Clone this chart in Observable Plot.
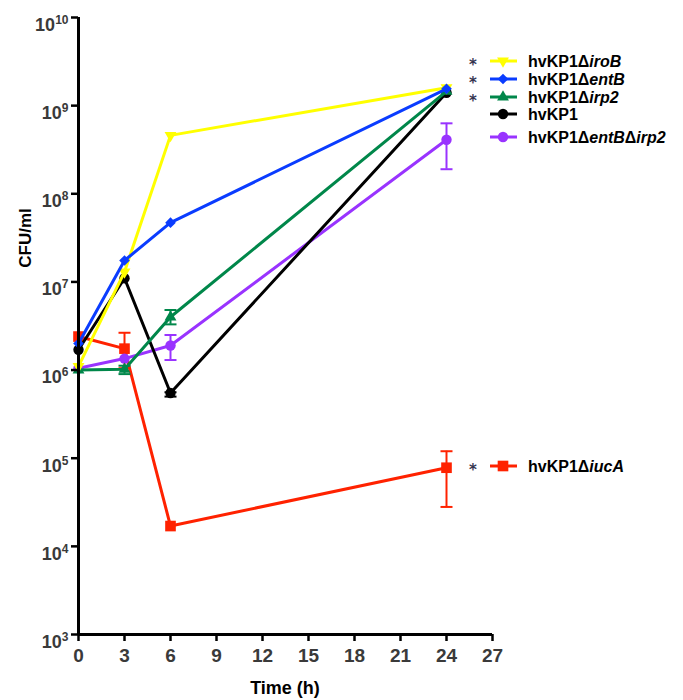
<!DOCTYPE html>
<html><head><meta charset="utf-8">
<script src="https://cdn.jsdelivr.net/npm/d3@7"></script>
<script src="https://cdn.jsdelivr.net/npm/@observablehq/plot@0.6"></script>
<style>
body{margin:0;background:#fff;}
#wrap{position:relative;width:683px;height:700px;font-family:"Liberation Sans",Arial,sans-serif;}
#wrap svg{position:absolute;left:0;top:0;}
</style></head><body><div id="wrap"></div>
<script>
// ---- data ----
const times = [0, 3, 6, 24];
const seriesKeys = ["iucA", "entBirp2", "hvKP1", "irp2", "iroB", "entB"];
const seriesColors = ["#FF2200", "#9933FF", "#000000", "#00874A", "#FFFF00", "#0A3CFF"];

const iucA      = [2.4e6, 1.75e6, 1.7e4, 7.8e4];
const iucA_lo   = [null, 1.05e6, null, 2.8e4];
const iucA_hi   = [null, 2.65e6, null, 1.2e5];

const entBirp2    = [1.05e6, 1.35e6, 1.9e6, 4.1e8];
const entBirp2_lo = [null, null, 1.3e6, 1.9e8];
const entBirp2_hi = [null, null, 2.5e6, 6.3e8];

const hvKP1    = [1.7e6, 1.1e7, 5.5e5, 1.4e9];
const hvKP1_lo = [null, null, 5.0e5, null];
const hvKP1_hi = [null, null, 5.6e5, null];

const irp2    = [1.0e6, 1.02e6, 4.0e6, 1.45e9];
const irp2_lo = [null, 0.9e6, 3.3e6, null];
const irp2_hi = [null, 1.12e6, 4.8e6, null];

const iroB    = [1.1e6, 1.3e7, 4.6e8, 1.6e9];
const iroB_lo = [null, null, null, null];
const iroB_hi = [null, null, null, null];

const entB    = [2.0e6, 1.75e7, 4.7e7, 1.55e9];
const entB_lo = [null, null, null, null];
const entB_hi = [null, null, null, null];

const xTicks = [0, 3, 6, 9, 12, 15, 18, 21, 24, 27];
const yTicks = [1e3, 1e4, 1e5, 1e6, 1e7, 1e8, 1e9, 1e10];

// legend text parts: [normal, italic, normal, italic ...]
const legendLabels = {
  iroB: ["hvKP1Δ", "iroB"],
  entB: ["hvKP1Δ", "entB"],
  irp2: ["hvKP1Δ", "irp2"],
  hvKP1: ["hvKP1"],
  entBirp2: ["hvKP1Δ", "entB", "Δ", "irp2"],
  iucA: ["hvKP1Δ", "iucA"]
};
const legendStars = {iroB: true, entB: true, irp2: true, hvKP1: false, entBirp2: false, iucA: true};
const starText = "*";
const xLabel = "Time (h)";
const yLabel = "CFU/ml";

// ---- symbols ----
const triangleDown = {draw(ctx, size) {
  const y = -Math.sqrt(size / (Math.sqrt(3) * 3));
  ctx.moveTo(0, -y * 2); ctx.lineTo(-Math.sqrt(3) * y, y); ctx.lineTo(Math.sqrt(3) * y, y); ctx.closePath();
}};
const capSymbol = {draw(ctx, size) { ctx.moveTo(-6, 0); ctx.lineTo(6, 0); }};
const seriesSymbols = {iucA: d3.symbolSquare, entBirp2: d3.symbolCircle, hvKP1: d3.symbolCircle,
  irp2: d3.symbolTriangle, iroB: triangleDown, entB: d3.symbolDiamond2};
const seriesR = {iucA: 6, entBirp2: 5.2, hvKP1: 5.2, irp2: 4.4, iroB: 4.4, entB: 4.8};

const vals = {iucA, entBirp2, hvKP1, irp2, iroB, entB};
const los = {iucA: iucA_lo, entBirp2: entBirp2_lo, hvKP1: hvKP1_lo, irp2: irp2_lo, iroB: iroB_lo, entB: entB_lo};
const his = {iucA: iucA_hi, entBirp2: entBirp2_hi, hvKP1: hvKP1_hi, irp2: irp2_hi, iroB: iroB_hi, entB: entB_hi};
const colorOf = Object.fromEntries(seriesKeys.map((k, i) => [k, seriesColors[i]]));

const marks = [];
for (const k of seriesKeys) {
  const rows = times.map((t, i) => ({t, v: vals[k][i], lo: los[k][i], hi: his[k][i]}));
  const err = rows.filter(r => r.lo != null);
  marks.push(Plot.ruleX(err, {x: "t", y1: "lo", y2: "hi", stroke: colorOf[k], strokeWidth: 2}));
  marks.push(Plot.dot(err, {x: "t", y: "lo", symbol: capSymbol, stroke: colorOf[k], strokeWidth: 2, fill: "none"}));
  marks.push(Plot.dot(err, {x: "t", y: "hi", symbol: capSymbol, stroke: colorOf[k], strokeWidth: 2, fill: "none"}));
  marks.push(Plot.line(rows, {x: "t", y: "v", stroke: colorOf[k], strokeWidth: 3}));
  marks.push(Plot.dot(rows, {x: "t", y: "v", symbol: seriesSymbols[k], r: seriesR[k], fill: colorOf[k], stroke: "none"}));
}

const chart = Plot.plot({
  width: 683, height: 700,
  marginLeft: 78, marginRight: 191, marginTop: 17, marginBottom: 66,
  style: {fontFamily: "'Liberation Sans', Arial, sans-serif", fontWeight: "bold", background: "transparent", overflow: "visible"},
  x: {domain: [0, 27], label: null},
  y: {type: "log", domain: [1e3, 1e10], label: null},
  marks: [
    ...marks,
    Plot.axisX({ticks: xTicks, tickSize: 7, tickPadding: 7, strokeWidth: 2.5, stroke: "#000",
      fill: "#3a3a3a", fontSize: 19, fontWeight: "bold", label: null}),
    Plot.axisY({ticks: yTicks, tickSize: 7, tickPadding: 3, strokeWidth: 2.5, stroke: "#000",
      fill: "#3a3a3a", fontSize: 18, fontWeight: "bold", label: null,
      tickFormat: d => "10^" + Math.round(Math.log10(d))}),
    Plot.ruleX([0], {stroke: "#000", strokeWidth: 3}),
    Plot.ruleY([1e3], {stroke: "#000", strokeWidth: 3})
  ]
});
document.getElementById("wrap").appendChild(chart);

// proper superscripts on y tick labels
chart.querySelectorAll("text").forEach(t => {
  const s = t.textContent;
  if (!/^10\^\d+$/.test(s)) return;
  const [base, exp] = s.split("^");
  t.textContent = base;
  t.setAttribute("dy", "0.42em");
  const ts = document.createElementNS("http://www.w3.org/2000/svg", "tspan");
  ts.setAttribute("dy", "-7");
  ts.setAttribute("font-size", "12px");
  ts.textContent = exp;
  t.appendChild(ts);
});

// ---- overlay: legend & axis titles ----
const ov = d3.select("#wrap").append("svg").attr("width", 683).attr("height", 700)
  .style("font-family", "'Liberation Sans', Arial, sans-serif").style("font-weight", "bold");

ov.append("text").attr("x", 285).attr("y", 694).attr("text-anchor", "middle")
  .attr("font-size", "18px").attr("fill", "#000").text(xLabel);
ov.append("text").attr("transform", "translate(31,238) rotate(-90)").attr("text-anchor", "middle")
  .attr("font-size", "17px").attr("fill", "#000").text(yLabel);

const legendOrder = ["iroB", "entB", "irp2", "hvKP1", "entBirp2", "iucA"];
const legendY = {iroB: 61, entB: 79, irp2: 97, hvKP1: 114, entBirp2: 137, iucA: 466};

// significance stars
for (const k of legendOrder.filter(k => legendStars[k])) {
  ov.append("text").attr("x", 473).attr("y", legendY[k] + 9).attr("text-anchor", "middle")
    .attr("font-family", "'DejaVu Sans', sans-serif").attr("font-weight", "bold")
    .attr("font-size", "15px").attr("fill", "#35354f").text(starText);
}

for (const k of legendOrder) {
  const y = legendY[k];
  const g = ov.append("g");
  g.append("line").attr("x1", 490).attr("x2", 517).attr("y1", y).attr("y2", y)
    .attr("stroke", colorOf[k]).attr("stroke-width", 3);
  const sz = Math.PI * seriesR[k] * seriesR[k];
  g.append("path").attr("d", d3.symbol(seriesSymbols[k], sz)()).attr("transform", `translate(503,${y})`)
    .attr("fill", colorOf[k]);
  const tx = g.append("text").attr("x", 528).attr("y", y + 6).attr("font-size", "16px").attr("fill", "#000");
  legendLabels[k].forEach((p, i) => {
    tx.append("tspan").attr("font-style", i % 2 ? "italic" : "normal").text(p);
  });
}
</script>
</body></html>
